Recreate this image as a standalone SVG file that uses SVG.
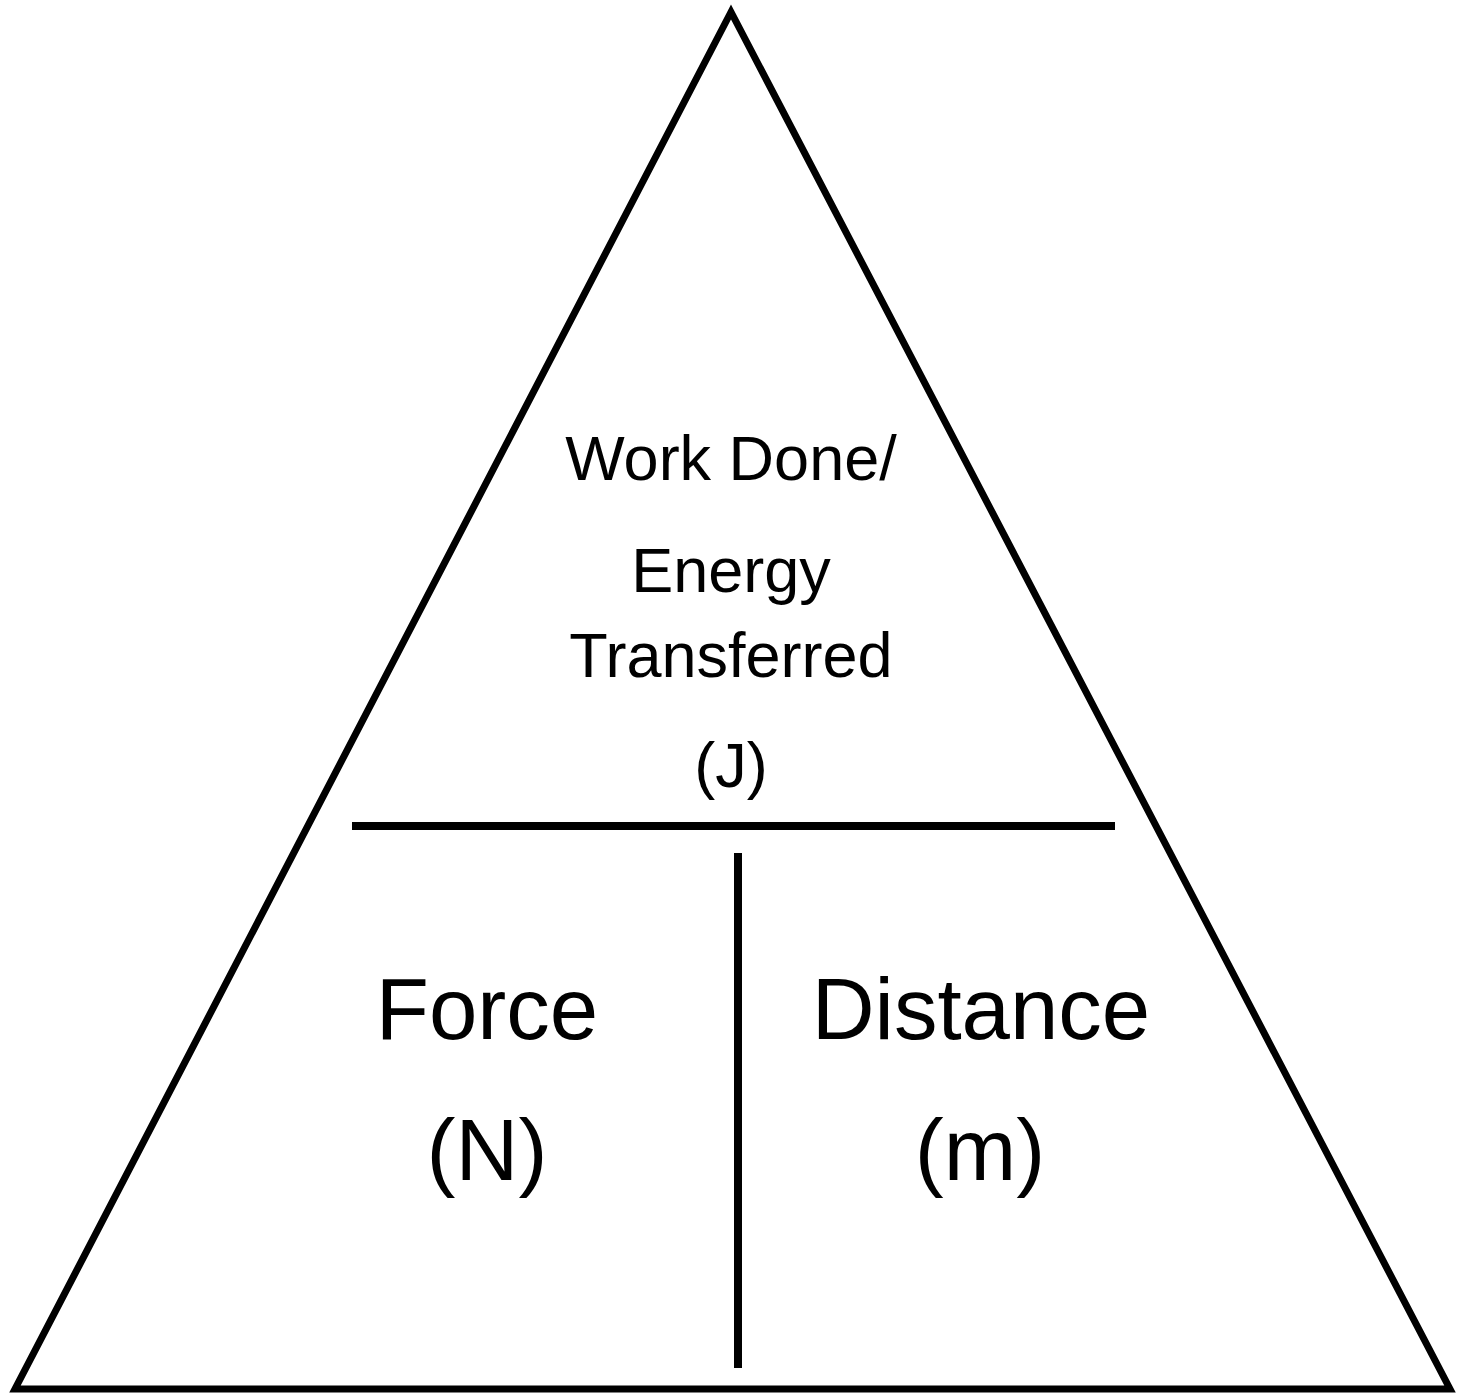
<svg xmlns="http://www.w3.org/2000/svg" width="1469" height="1393" viewBox="0 0 1469 1393">
<style>
.ln{fill:none;stroke:#000;stroke-width:7}
.t{font-family:"Liberation Sans",Arial,sans-serif;fill:#000;text-anchor:middle}
.s{font-size:63px}
.b{font-size:87px}
</style>
<rect width="1469" height="1393" fill="#fff"/>
<g id="triangle"><polygon class="ln" points="731,12 15,1389 1450,1389"/></g>
<g id="connectors">
<line x1="352" y1="826" x2="1115" y2="826" style="fill:none;stroke:#000;stroke-width:8"/>
<line x1="738" y1="853" x2="738" y2="1368" style="fill:none;stroke:#000;stroke-width:8"/>
</g>
<g id="work">
<text class="t s" x="731" y="480">Work Done/</text>
<text class="t s" x="731" y="592">Energy</text>
<text class="t s" x="731" y="677">Transferred</text>
<text class="t s" x="731" y="787">(J)</text>
</g>
<g id="force">
<text class="t b" x="487" y="1039">Force</text>
<text class="t b" x="487" y="1180">(N)</text>
</g>
<g id="distance">
<text class="t b" x="981" y="1039">Distance</text>
<text class="t b" x="980" y="1180">(m)</text>
</g>
</svg>
